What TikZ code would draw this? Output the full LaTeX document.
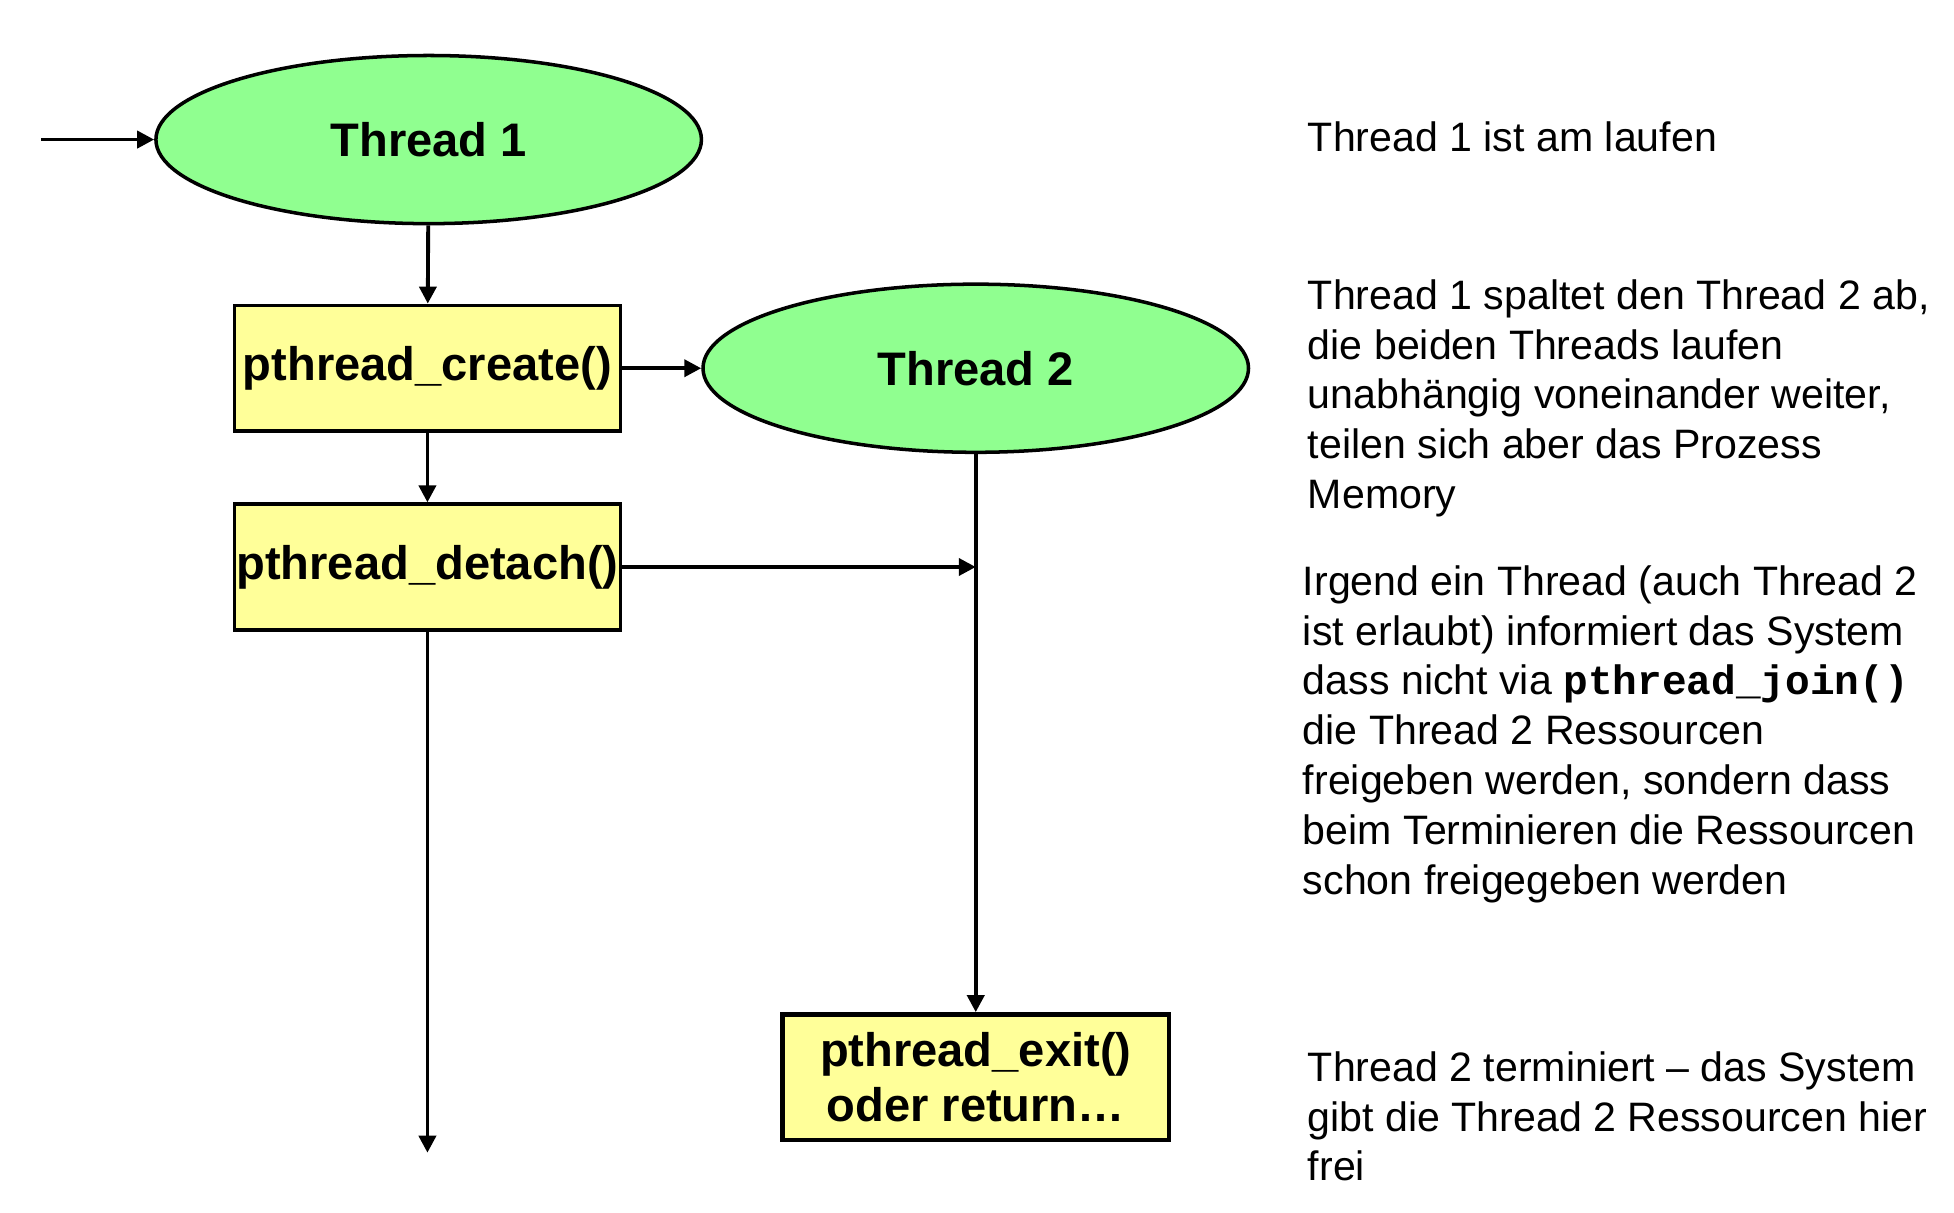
\documentclass[tikz,border=0pt]{standalone}
\usepackage{fontspec}
\setmainfont{Liberation Sans}
\setmonofont{Liberation Mono}
\usetikzlibrary{arrows.meta,shapes.geometric}
\definecolor{threadgreen}{RGB}{144,255,144}
\definecolor{callyellow}{RGB}{255,255,153}
\begin{document}
\begin{tikzpicture}[x=0.01246cm,y=-0.01246cm,
  thread/.style={ellipse,draw,line width=1pt,fill=threadgreen,inner sep=0pt,
    minimum width=5.457cm,minimum height=1.682cm,font=\fontsize{13.4}{16}\selectfont\bfseries},
  call/.style={rectangle,draw,line width=1pt,fill=callyellow,inner sep=0pt,align=center,
    minimum width=3.863cm,minimum height=1.258cm,font=\fontsize{13.4}{15.6}\selectfont\bfseries},
  note/.style={anchor=north west,inner sep=0pt,align=left,font=\fontsize{11.7}{14.2}\selectfont},
  flow/.style={line width=1.1pt,-{Triangle[length=1.7mm,width=1.7mm]}}]
\useasboundingbox (0,0) rectangle (1568,972.6);

\node[thread] (T1) at (344,112) {Thread 1};
\node[call] (create) at (343,295.5) {pthread\_create()};
\node[thread] (T2) at (783,295.5) {Thread 2};
\node[call] (detach) at (343,455) {pthread\_detach()};
\node[call,line width=1.3pt] (exit) at (783,864.5) {pthread\_exit()\\oder return…};

\coordinate (start) at (33,112);
\coordinate (T1end) at (343,925);
\coordinate (hit) at (T2.south |- detach.east);

\draw[flow] (start) -- (T1);
\draw[flow] (T1) -- (create);
\draw[flow] (create) -- (T2);
\draw[flow] (create) -- (detach);
\draw[flow] (detach.east) -- (hit);
\draw[flow] (T2) -- (exit);
\draw[flow] (detach) -- (T1end);

\node[note] (n1) at (1049,93) {\strut Thread 1 ist am laufen};
\node[note] (n2) at (1049,219.5) {\strut Thread 1 spaltet den Thread 2 ab,\\die beiden Threads laufen\\unabhängig voneinander weiter,\\teilen sich aber das Prozess\\Memory};
\node[note] (n3) at (1045,449) {\strut Irgend ein Thread (auch Thread 2\\ist erlaubt) informiert das System\\dass nicht via \texttt{\bfseries pthread\_join()}\\die Thread 2 Ressourcen\\freigeben werden, sondern dass\\beim Terminieren die Ressourcen\\schon freigegeben werden};
\node[note] (n4) at (1049,839) {\strut Thread 2 terminiert – das System\\gibt die Thread 2 Ressourcen hier\\frei};
\end{tikzpicture}
\end{document}
